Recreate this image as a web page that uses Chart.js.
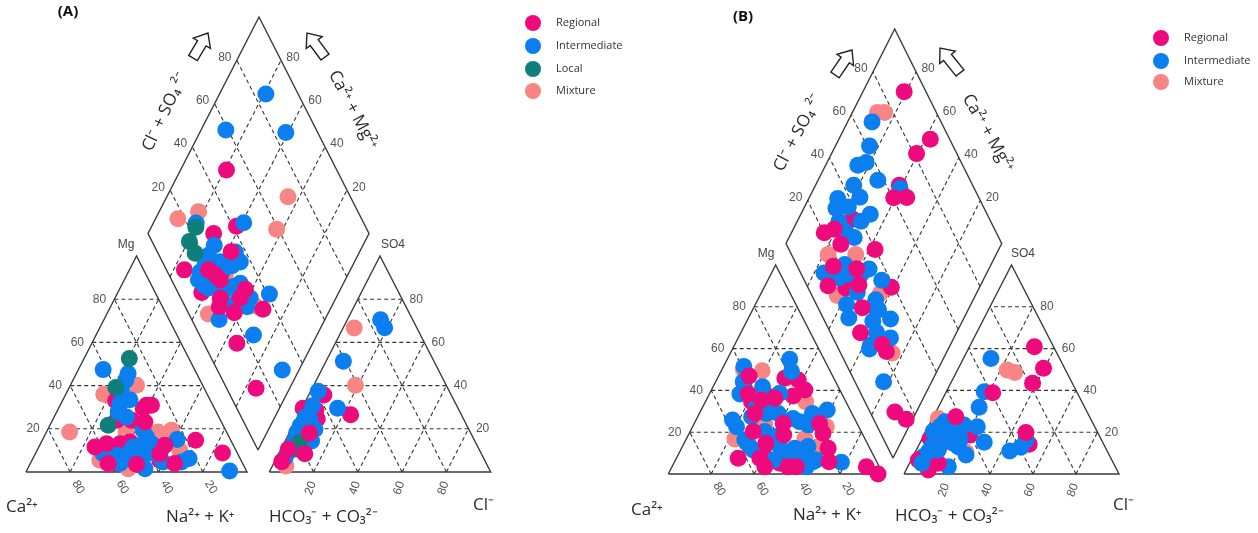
<!DOCTYPE html>
<html>
<head>
<meta charset="utf-8">
<title>Piper diagrams</title>
<script src="https://cdn.jsdelivr.net/npm/chart.js@4/dist/chart.umd.js"></script>
<style>
  html, body { margin: 0; padding: 0; background: #fff; }
  canvas { display: block; }
</style>
</head>
<body>
<canvas id="piper" width="1258" height="533"></canvas>
<script>
// values in percent
const gridLevels = [20, 40, 60, 80];
const classNames = ['Regional', 'Intermediate', 'Local', 'Mixture'];

// panel A, cations: [Ca, Mg]
const aCatMixture = [[71,18.5],[46.8,36],[29.9,40.2],[45.5,18.5],[31,18.5],[24.5,19.3],[25.4,10],[63.9,5.4],[53,1.5]];
const aCatLocal = [[27,52.5],[39.8,39.1],[52,21.6]];
const aCatRegionalBack = [[47,24],[40.3,24],[50.9,13.1],[46,13.9],[32.3,29.4],[15.9,14.7],[6.7,8.8],[43,33],[36.8,5.4],[57,3.9]];
const aCatIntermediate = [[41.4,47.4],[31,45.6],[33.6,42.5],[36.2,33.5],[41.7,31.7],[41.8,25.5],[37.3,19.3],[40.4,13.1],[36.6,13.1],[24.1,15],[60.9,8.5],[55.2,7.7],[49.5,8.5],[44.2,8.5],[45.4,1.5],[36.7,8.5],[35.7,4.6],[27.4,4.6],[23.1,6.2],[7.6,0.5],[55.6,3.9],[45.7,11.6],[37.4,16.2],[57.8,5.4],[48.8,5.4],[43.5,7],[53.3,5.4],[37.9,37.9],[44.4,27.8]];
const aCatRegionalFront = [[30,30.9],[27.8,30.9],[34.6,23.2],[63,11.6],[57,13.1],[31,12.4],[35.2,8.5],[30.8,3.9],[60.9,3.9],[48.2,3.6]];

// panel A, anions: [Cl, SO4]
const aAnMixture = [[5,66.7],[18.8,40.2],[6.1,2.8]];
const aAnLocal = [[6.8,13.6],[7.9,10.5]];
const aAnRegionalBack = [[6.8,35.7],[23.5,26.5],[0.5,29.5],[6.7,28.7],[9.4,24.5]];
const aAnIntermediate = [[15,70.5],[18.7,66.8],[7.8,51.3],[3.4,37.4],[16.1,29.5],[4.2,30.7],[3.5,25.3],[10.7,19.8],[3.2,18.3],[11.9,14.4],[4,13.6],[3.8,6.7],[7.8,16.7],[6.6,16],[4.5,9.8],[6.1,24.5],[3.2,21.4]];
const aAnRegionalFront = [[9.1,18],[3.3,10.5],[11.8,8.5],[3.2,4.8]];

// panel A, diamond: [Cl+SO4, Ca+Mg]
const aDiaMixture = [[71.8,45.2],[59.2,42.8],[16.9,89.9],[27.9,82.2],[8.8,54],[31.9,34.6],[25.4,55.4]];
const aDiaLocal = [[23.1,79.8],[16.9,79.4],[16.8,74.1]];
const aDiaRegionalBack = [[50.1,79.2],[29.7,70.3],[41.7,61.7],[8.1,75.1],[10.8,62],[13.3,15.2]];
const aDiaIntermediate = [[85.4,79],[59,88.8],[85.6,61.1],[24.2,80.6],[45.8,59.2],[27.3,67.3],[22.4,67.6],[35.3,56.2],[30.6,54.5],[26.2,60.7],[12.1,66.4],[14.8,60],[13.3,63],[26.5,49],[30.3,46.7],[28,38.2],[21.5,45.4],[12.4,47.9],[41,31],[24.4,28.7],[29.4,7.6],[19.3,67.5],[21.9,52],[17.2,59],[24.8,57.5],[25.5,43.7],[31.4,38.8],[14.7,67.5],[35.2,51.6]];
const aDiaRegionalFront = [[33.4,58.2],[19,64.2],[20.9,60],[22,56.5],[31.2,43],[26.9,43.3],[17.8,52.3],[15.4,50.8],[20.8,42.6],[34.6,30.4],[15,34.3]];

// panel B, cations: [Ca, Mg]
const bCatMixture = [[40,50],[31.6,49.4],[60.6,16.7],[18.7,34.6],[15.1,22.6],[43,24.2],[27.9,17],[23,13]];
const bCatRegionalBack = [[22.8,45.8],[17,45],[23.2,37.3],[40,8.3],[50,11.5],[45.5,5.1],[38.9,7.5],[43.9,34.6],[34.2,37]];
const bCatIntermediate = [[16,54.9],[18.1,49],[39.1,51.4],[43,44.2],[47.5,38.3],[35.2,41.8],[28.8,38.6],[57.2,25.8],[56.9,22.6],[56.2,16.3],[55.5,13.1],[47.5,27.4],[39.8,29],[34.3,29],[44.9,20.3],[28.6,26.6],[26.3,25],[18.4,29],[10.7,30.6],[23.2,23.4],[35,12.3],[28.4,13.1],[27.7,6.7],[16.6,5.6],[33.9,3.5],[47.5,6.7],[41.5,13.1],[42.8,32.2],[36.6,32.2],[38.5,9.9],[33,11.5],[32,7.5],[29.6,5.9],[54.7,11.5],[40.7,17.9]];
const bCatRegionalFront = [[38.9,46.9],[43.6,38.3],[38.9,35.4],[16.3,40.2],[32.3,36.2],[45.2,29],[50.3,20.3],[34.4,24.2],[36.9,18.7],[17.4,24.2],[18.2,19.5],[19.4,12.3],[22.2,5.9],[63.7,7.5],[47.2,14.7],[53.6,7.5],[53.3,3.5],[42.5,3.5],[38.6,3.5],[6,3.5],[2.3,0]];

// panel B, anions: [Cl, SO4]
const bAnMixture = [[23.1,49.8],[27.2,48.6],[23.6,10.4],[2.6,26.6]];
const bAnRegionalBack = [[51.1,14.2],[21.3,18.7],[9.8,13.9],[3.6,17]];
const bAnIntermediate = [[12.8,55.3],[17.6,39.4],[19,31.9],[22.8,22.6],[29.7,15.2],[43.7,11],[47.9,12.8],[48.6,16.3],[5.4,22.6],[6.5,25],[17.9,16.3],[15.6,14.7],[16.2,23.4],[12,20.3],[18.9,3.5],[24.3,9.1],[3.4,20.3],[11.3,17],[18.7,13.1],[6.3,13.1],[4.8,8.3],[15.5,21],[6.6,20.3],[9.5,5.1],[8.9,23.4]];
const bAnRegionalFront = [[30.2,60.9],[39.6,50.6],[38.1,43.4],[21.8,38.9],[46.8,19.8],[10.4,27.4],[13.4,5.1],[10.4,1.9],[3.3,6.7]];
const bAnIntermediateTop = [[10.2,11.5],[6,10.7],[5.7,5.1]];

// panel B, diamond: [Cl+SO4, Ca+Mg]
const bDiaMixture = [[72.7,88.4],[76,85.1],[32,80.5],[17,77.9],[29.8,65.1],[32.4,44.5],[11.8,64],[23.9,25.1]];
const bDiaRegionalBack = [[66,61.2],[36.5,74.8],[17.4,61.9],[38.7,40.9],[21.6,28.1]];
const bDiaIntermediate = [[68,88.7],[61.3,84.2],[55.9,81.9],[51.4,85.1],[57.2,72.3],[44.9,82.3],[45,76.6],[65.6,60],[34.4,86.6],[31.3,85.1],[37.3,79.7],[45.8,67.8],[39.9,70.5],[33,69.8],[10.8,75.5],[22.4,67.8],[32.6,55.5],[16.6,67.4],[35.9,47],[21.8,55.5],[14,57.6],[11.9,53.4],[26.2,44.5],[22.3,41.5],[31,33.8],[21.4,37.2],[26.6,29.4],[14.3,36.5],[13.3,22.3],[27.5,58],[22.8,62.7],[28.6,45.2],[30.5,75],[29.6,80.7],[27.6,41.5],[15.7,37]];
const bDiaRegionalFront = [[89.9,80.9],[91,57.6],[81.3,60.6],[60.5,60.8],[66.6,54.8],[25.6,81],[20.2,84.8],[25.2,74.4],[39.9,57.3],[9.7,70.6],[16.7,72.7],[26.9,61.3],[24.3,56.5],[20.5,49.5],[13.9,44.5],[21.2,31.7],[11.5,9.9],[15.1,3]];

const colors = { Regional: '#ee0a7c', Intermediate: '#0c7ff0', Local: '#0e7f7a', Mixture: '#f88583' };
const lineColor = '#3a3a3a';
const gridColor = '#333333';
const dotRadius = 8.5;

// triangle and diamond corners of both panels, in chart units
const panelA = {
  cat: { left: 26, right: 247, top: 256, base: 472 },
  an: { left: 269.3, right: 490.7, top: 256, base: 472 },
  dia: { cx: 258, left: 148, right: 369, top: 15, mid: 233.5, bottom: 450 }
};
const panelB = {
  cat: { left: 668.3, right: 883, top: 265, base: 474 },
  an: { left: 904, right: 1119, top: 265, base: 474 },
  dia: { cx: 893, left: 786, right: 1001.7, top: 30, mid: 243.5, bottom: 458 }
};

function catPoint(t, ca, mg) {
  const w = t.right - t.left;
  return { x: t.left + w * ((100 - ca - mg) + mg / 2) / 100, y: t.base - (t.base - t.top) * mg / 100 };
}
function anPoint(t, cl, so4) {
  const w = t.right - t.left;
  return { x: t.left + w * (cl + so4 / 2) / 100, y: t.base - (t.base - t.top) * so4 / 100 };
}
function diaPoint(d, s, c) {
  return {
    x: d.cx + (d.left - d.cx) * c / 100 + (d.right - d.cx) * s / 100,
    y: d.bottom + (d.mid - d.bottom) * (c + s) / 100
  };
}

function lineSet(points, dashed) {
  return {
    type: 'scatter', data: points, showLine: true, pointRadius: 0, fill: false, clip: false,
    borderColor: dashed ? gridColor : lineColor,
    borderWidth: dashed ? 1.1 : 1.4,
    borderDash: dashed ? [4, 3] : []
  };
}
function frames(p) {
  const sets = [];
  const c = p.cat, a = p.an, d = p.dia;
  sets.push(lineSet([catPoint(c, 100, 0), catPoint(c, 0, 0), catPoint(c, 0, 100), catPoint(c, 100, 0)], false));
  sets.push(lineSet([anPoint(a, 0, 0), anPoint(a, 100, 0), anPoint(a, 0, 100), anPoint(a, 0, 0)], false));
  sets.push(lineSet([diaPoint(d, 0, 0), diaPoint(d, 100, 0), diaPoint(d, 100, 100), diaPoint(d, 0, 100), diaPoint(d, 0, 0)], false));
  gridLevels.forEach(v => {
    sets.push(lineSet([catPoint(c, 100 - v, v), catPoint(c, 0, v)], true));
    sets.push(lineSet([catPoint(c, v, 0), catPoint(c, v, 100 - v)], true));
    sets.push(lineSet([catPoint(c, 100 - v, 0), catPoint(c, 0, 100 - v)], true));
    sets.push(lineSet([anPoint(a, 100 - v, v), anPoint(a, 0, v)], true));
    sets.push(lineSet([anPoint(a, v, 0), anPoint(a, v, 100 - v)], true));
    sets.push(lineSet([anPoint(a, 100 - v, 0), anPoint(a, 0, 100 - v)], true));
    sets.push(lineSet([diaPoint(d, v, 0), diaPoint(d, v, 100)], true));
    sets.push(lineSet([diaPoint(d, 0, v), diaPoint(d, 100, v)], true));
  });
  return sets;
}
function dots(name, p, cat, an, dia) {
  const data = cat.map(v => catPoint(p.cat, v[0], v[1]))
    .concat(an.map(v => anPoint(p.an, v[0], v[1])))
    .concat(dia.map(v => diaPoint(p.dia, v[0], v[1])));
  return {
    type: 'scatter', label: name, data: data, clip: false,
    backgroundColor: colors[name], borderColor: colors[name], borderWidth: 0,
    pointRadius: dotRadius, pointHoverRadius: dotRadius
  };
}

// Chart.js paints the first dataset last, so the list is reversed to keep frames at the bottom
const datasets = [].concat(
  frames(panelA), frames(panelB),
  [
    dots('Mixture', panelA, aCatMixture, aAnMixture, aDiaMixture),
    dots('Regional', panelA, aCatRegionalBack, aAnRegionalBack, aDiaRegionalBack),
    dots('Intermediate', panelA, aCatIntermediate, aAnIntermediate, aDiaIntermediate),
    dots('Local', panelA, aCatLocal, aAnLocal, aDiaLocal),
    dots('Regional', panelA, aCatRegionalFront, aAnRegionalFront, aDiaRegionalFront),
    dots('Mixture', panelB, bCatMixture, bAnMixture, bDiaMixture),
    dots('Regional', panelB, bCatRegionalBack, bAnRegionalBack, bDiaRegionalBack),
    dots('Intermediate', panelB, bCatIntermediate, bAnIntermediate, bDiaIntermediate),
    dots('Regional', panelB, bCatRegionalFront, bAnRegionalFront, bDiaRegionalFront),
    dots('Intermediate', panelB, [], bAnIntermediateTop, [])
  ]
).reverse();

const tickFont = '12px "Liberation Sans"';
const tickColor = '#555555';
const bigFont = '17px "Open Sans"';
const bigColor = '#2b2b2b';

function text(ctx, s, x, y, font, color, rot, align) {
  ctx.save();
  ctx.translate(x, y);
  ctx.rotate((rot || 0) * Math.PI / 180);
  ctx.font = font;
  ctx.fillStyle = color;
  ctx.textAlign = align || 'center';
  ctx.textBaseline = 'middle';
  ctx.fillText(s, 0, 0);
  ctx.restore();
}
function arrow(ctx, tailX, tailY, tipX, tipY) {
  const len = Math.hypot(tipX - tailX, tipY - tailY);
  ctx.save();
  ctx.translate(tailX, tailY);
  ctx.rotate(Math.atan2(tipY - tailY, tipX - tailX));
  ctx.beginPath();
  ctx.moveTo(0, -5);
  ctx.lineTo(len - 12, -5);
  ctx.lineTo(len - 12, -10);
  ctx.lineTo(len, 0);
  ctx.lineTo(len - 12, 10);
  ctx.lineTo(len - 12, 5);
  ctx.lineTo(0, 5);
  ctx.closePath();
  ctx.fillStyle = '#fff';
  ctx.fill();
  ctx.strokeStyle = '#222';
  ctx.lineWidth = 1.4;
  ctx.stroke();
  ctx.restore();
}
function panelText(ctx, xs, ys, p) {
  const at = (pt, dx, dy) => [xs.getPixelForValue(pt.x) + dx, ys.getPixelForValue(pt.y) + dy];
  const put = (v, q, rot) => text(ctx, String(v), q[0], q[1], tickFont, tickColor, rot);
  gridLevels.forEach(v => {
    put(v, at(catPoint(p.cat, v, 0), 8, 15), 60);
    put(v, at(catPoint(p.cat, 100 - v, v), -15, 0));
    put(v, at(anPoint(p.an, v, 0), -3, 16), -70);
    put(v, at(anPoint(p.an, 100 - v, v), 14, 0));
    put(v, at(diaPoint(p.dia, v, 100), -12, -3));
    put(v, at(diaPoint(p.dia, 100, v), 12, -3));
  });
}

const piperText = {
  id: 'piperText',
  afterDatasetsDraw(chart) {
    const ctx = chart.ctx, xs = chart.scales.x, ys = chart.scales.y;
    panelText(ctx, xs, ys, panelA);
    panelText(ctx, xs, ys, panelB);

    text(ctx, '(A)', 68, 12, 'bold 15px "Open Sans"', '#111');
    text(ctx, '(B)', 743, 17, 'bold 15px "Open Sans"', '#111');
    text(ctx, 'Mg', 126, 245, '12px "Liberation Sans"', '#444');
    text(ctx, 'SO4', 393, 245, '12px "Liberation Sans"', '#444');
    text(ctx, 'Mg', 766, 254, '12px "Liberation Sans"', '#444');
    text(ctx, 'SO4', 1023, 254, '12px "Liberation Sans"', '#444');

    text(ctx, 'Ca²⁺', 6, 507, bigFont, bigColor, 0, 'left');
    text(ctx, 'Na²⁺ + K⁺', 166, 517, bigFont, bigColor, 0, 'left');
    text(ctx, 'HCO₃⁻ + CO₃²⁻', 269, 517, bigFont, bigColor, 0, 'left');
    text(ctx, 'Cl⁻', 473, 505, bigFont, bigColor, 0, 'left');
    text(ctx, 'Ca²⁺', 631, 510, bigFont, bigColor, 0, 'left');
    text(ctx, 'Na²⁺ + K⁺', 793, 515, bigFont, bigColor, 0, 'left');
    text(ctx, 'HCO₃⁻ + CO₃²⁻', 895, 516, bigFont, bigColor, 0, 'left');
    text(ctx, 'Cl⁻', 1113, 505, bigFont, bigColor, 0, 'left');

    text(ctx, 'Cl⁻ + SO₄ ²⁻', 165, 112, bigFont, bigColor, -65);
    text(ctx, 'Ca²⁺ + Mg²⁺', 353, 110, bigFont, bigColor, 62);
    text(ctx, 'Cl⁻ + SO₄ ²⁻', 798, 133, bigFont, bigColor, -62);
    text(ctx, 'Ca²⁺ + Mg²⁺', 988, 133, bigFont, bigColor, 60);

    arrow(ctx, 193, 58, 208, 33);
    arrow(ctx, 325, 57, 307, 33);
    arrow(ctx, 835, 75, 852, 50);
    arrow(ctx, 960, 73, 940, 48);

    const legend = (names, x, tx, ysList) => names.forEach((n, i) => {
      ctx.beginPath();
      ctx.arc(x, ysList[i], 8, 0, Math.PI * 2);
      ctx.fillStyle = colors[n];
      ctx.fill();
      text(ctx, n, tx, ysList[i], '11px "Open Sans"', '#333', 0, 'left');
    });
    legend(classNames, 533, 556, [23, 46, 69, 91]);
    legend(['Regional', 'Intermediate', 'Mixture'], 1161, 1184, [38, 61, 82]);
  }
};

new Chart(document.getElementById('piper').getContext('2d'), {
  type: 'scatter',
  data: { datasets: datasets },
  plugins: [piperText],
  options: {
    responsive: false,
    animation: false,
    layout: { padding: 0, autoPadding: false },
    plugins: { legend: { display: false }, tooltip: { enabled: false }, title: { display: false } },
    scales: {
      x: { type: 'linear', min: 0, max: 1258, display: false },
      y: { type: 'linear', min: 0, max: 533, reverse: true, display: false }
    }
  }
});
</script>
</body>
</html>
